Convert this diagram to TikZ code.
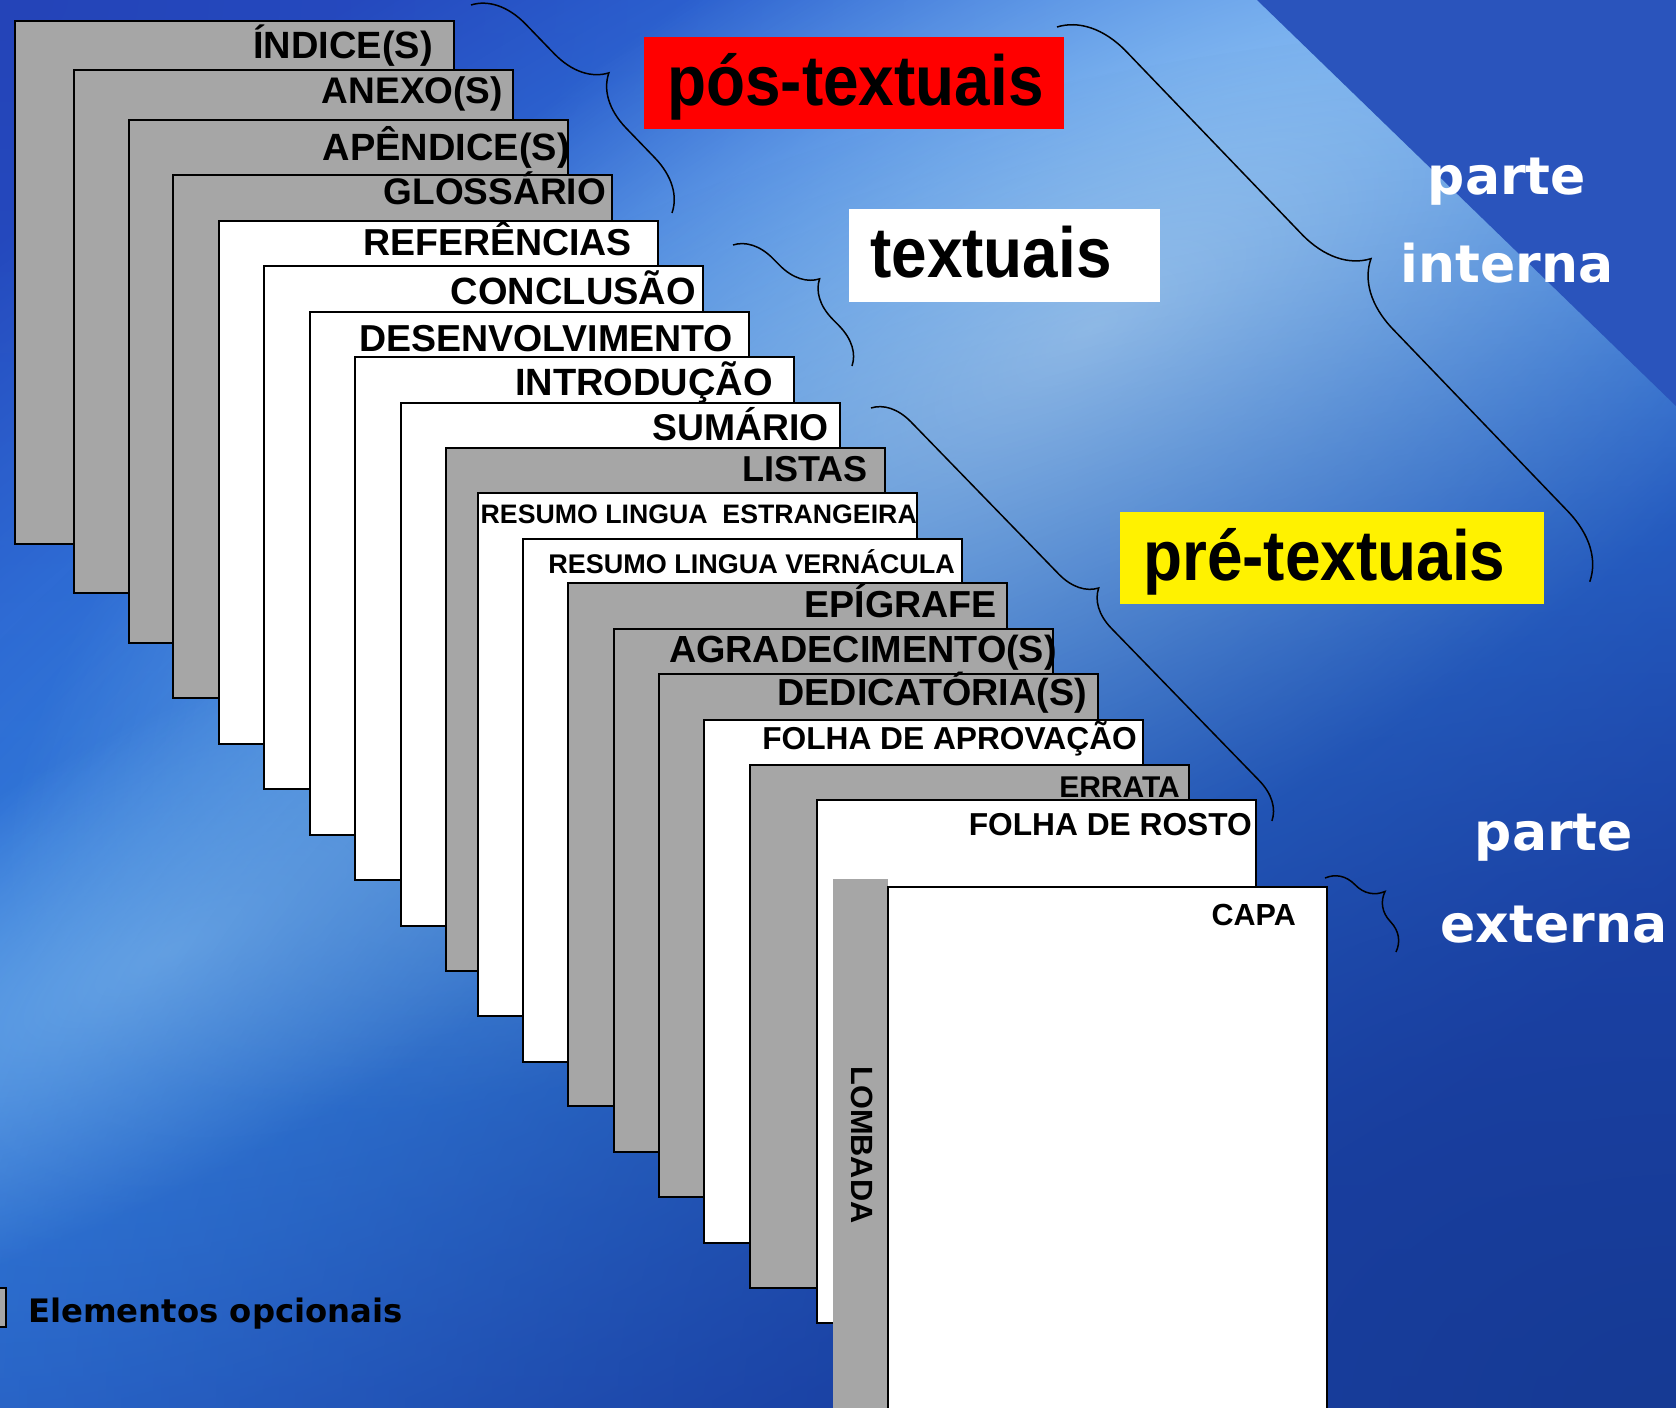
\documentclass[tikz,border=0pt]{standalone}
\usepackage{fontspec}
\setmainfont{Liberation Sans}
\newfontfamily\tagfont[FakeStretch=0.9]{Liberation Sans}
\newfontfamily\partfont{DejaVu Sans}
\usetikzlibrary{decorations.pathreplacing,fadings}
\definecolor{pagegray}{HTML}{A6A6A6}
\definecolor{bgtop}{HTML}{2A5ED8}
\definecolor{bgbot}{HTML}{2048B8}
\definecolor{bandlight}{HTML}{3E9CF2}
\definecolor{glowlight}{HTML}{A8D4F8}
\definecolor{streak}{HTML}{74B6F4}
\definecolor{cornerdark}{HTML}{2A54BC}
\definecolor{navy}{HTML}{163A94}
\definecolor{tldark}{HTML}{2444B8}
\newcommand\fsz[1]{\fontsize{#1pt}{#1pt}\selectfont}
\tikzfading[name=softglow, inner color=transparent!0, outer color=transparent!100]

\begin{document}
\begin{tikzpicture}[x=1pt, y=-1pt,
  page/.style={draw=black, line width=1.6pt, minimum width=439pt, minimum height=523pt, inner sep=0pt, anchor=north west},
  opt/.style={page, fill=pagegray},
  req/.style={page, fill=white},
  lbl/.style={inner sep=0pt, anchor=base east, font=\bfseries\fsz{#1}},
  tagbox/.style={inner sep=0pt, anchor=north west, minimum height=92pt},
  tagtxt/.style={inner sep=0pt, anchor=base west, font=\tagfont\bfseries\fsz{71}},
  parttxt/.style={inner sep=0pt, anchor=base, text=white, font=\partfont\bfseries\fsz{52}},
  curly/.style={decorate, decoration={brace, amplitude=#1pt}, line width=1.5pt}]
  \useasboundingbox (0,0) rectangle (1676,1408);
  \clip (0,0) rectangle (1676,1408);
  \shade[top color=bgtop, bottom color=bgbot] (0,0) rectangle (1676,1408);
  \fill[tldark, path fading=softglow, fit fading=true] (0,0) ellipse [x radius=1800, y radius=1200];
  \begin{scope}[transform canvas={rotate around={32:(760,640)}}]
    \fill[bandlight, path fading=softglow, fit fading=true] (760,640) ellipse [x radius=2300, y radius=760];
  \end{scope}
  \begin{scope}[transform canvas={rotate around={32:(1090,330)}}]
    \fill[glowlight, path fading=softglow, fit fading=true] (1090,330) ellipse [x radius=1240, y radius=500];
  \end{scope}
  \begin{scope}[transform canvas={rotate around={28:(170,950)}}]
    \fill[streak, path fading=softglow, fit fading=true] (170,950) ellipse [x radius=700, y radius=220];
  \end{scope}
  \fill[navy, path fading=softglow, fit fading=true] (1676,1408) ellipse [x radius=2000, y radius=1400];
  \fill[cornerdark] (1257,0) -- (1676,0) -- (1676,406) -- cycle;

  \node[opt] (indice) at (14,20) {};
  \node[lbl=38] (indicet) at (433,58) {ÍNDICE(S)};
  \node[opt] (anexo) at (73,69) {};
  \node[lbl=37] (anexot) at (503,103) {ANEXO(S)};
  \node[opt] (apendice) at (128,119) {};
  \node[lbl=38] (apendicet) at (570,160) {APÊNDICE(S)};
  \node[opt] (glossario) at (172,174) {};
  \node[lbl=37] (glossariot) at (606,204) {GLOSSÁRIO};
  \node[req] (referencias) at (218,220) {};
  \node[lbl=37.5] (referenciast) at (632,255) {REFERÊNCIAS};
  \node[req] (conclusao) at (263,265) {};
  \node[lbl=38] (conclusaot) at (696,304) {CONCLUSÃO};
  \node[req] (desenv) at (309,311) {};
  \node[lbl=37.5] (desenvt) at (733,351) {DESENVOLVIMENTO};
  \node[req] (intro) at (354,356) {};
  \node[lbl=38] (introt) at (773,395) {INTRODUÇÃO};
  \node[req] (sumario) at (400,402) {};
  \node[lbl=37.3] (sumariot) at (829,440) {SUMÁRIO};
  \node[opt] (listas) at (445,447) {};
  \node[lbl=36] (listast) at (868,481) {LISTAS};
  \node[req] (resumoe) at (477,492) {};
  \node[lbl=26.7] (resumoet) at (917,523) {RESUMO LINGUA\ \ ESTRANGEIRA};
  \node[req] (resumov) at (522,538) {};
  \node[lbl=27] (resumovt) at (955,573) {RESUMO LINGUA VERNÁCULA};
  \node[opt] (epigrafe) at (567,582) {};
  \node[lbl=37.6] (epigrafet) at (997,617) {EPÍGRAFE};
  \node[opt] (agrad) at (613,628) {};
  \node[lbl=37.8] (agradt) at (1057,662) {AGRADECIMENTO(S)};
  \node[opt] (dedic) at (658,673) {};
  \node[lbl=37.7] (dedict) at (1087,705) {DEDICATÓRIA(S)};
  \node[req] (aprov) at (703,719) {};
  \node[lbl=31.7] (aprovt) at (1137,749) {FOLHA DE APROVAÇÃO};
  \node[opt] (errata) at (749,764) {};
  \node[lbl=30] (errat) at (1180,797) {ERRATA};
  \node[req] (rosto) at (816,799) {};
  \node[lbl=31.7] (rostot) at (1252,835) {FOLHA DE ROSTO};
  \node[fill=pagegray, inner sep=0pt, minimum width=55pt, minimum height=540pt, anchor=north west] (lombada) at (833,879) {};
  \node[font=\bfseries\fsz{30.7}, rotate=-90, inner sep=0pt] (lombadat) at (862,1145) {LOMBADA};
  \node[req] (capa) at (887,886) {};
  \node[lbl=30.5] (capat) at (1296,925) {CAPA};

  \node[tagbox, fill=red, minimum width=420pt] (posbox) at (644,37) {};
  \node[tagtxt] (post) at (667,105) {pós-textuais};
  \node[tagbox, fill=white, minimum width=311pt, minimum height=93pt] (txtbox) at (849,209) {};
  \node[tagtxt] (txtt) at (870,277) {textuais};
  \node[tagbox, fill=yellow, minimum width=424pt] (prebox) at (1120,512) {};
  \node[tagtxt] (pret) at (1143,580) {pré-textuais};

  \node[parttxt] (pint1) at (1507,194) {parte};
  \node[parttxt] (pint2) at (1507,282) {interna};
  \node[parttxt] (pext1) at (1554,850) {parte};
  \node[parttxt] (pext2) at (1554,942) {externa};

  \coordinate (pos1) at (471,5);
  \coordinate (pos2) at (672,213);
  \coordinate (txt1) at (733,245);
  \coordinate (txt2) at (852,366);
  \coordinate (pre1) at (871,408);
  \coordinate (pre2) at (1272,821);
  \coordinate (int1) at (1057,27);
  \coordinate (int2) at (1590,582);
  \coordinate (ext1) at (1325,878);
  \coordinate (ext2) at (1396,952);
  \draw[curly=52] (pos1) -- (pos2);
  \draw[curly=38] (txt1) -- (txt2);
  \draw[curly=38] (pre1) -- (pre2);
  \draw[curly=66] (int1) -- (int2);
  \draw[curly=34] (ext1) -- (ext2);

  \node[draw, line width=1.6pt, fill=pagegray, minimum width=40pt, minimum height=39pt, inner sep=0pt, anchor=north east] (swatch) at (7,1287) {};
  \node[inner sep=0pt, anchor=base west, font=\partfont\bfseries\fsz{32.3}] (opcionais) at (28,1322) {Elementos opcionais};
\end{tikzpicture}
\end{document}
